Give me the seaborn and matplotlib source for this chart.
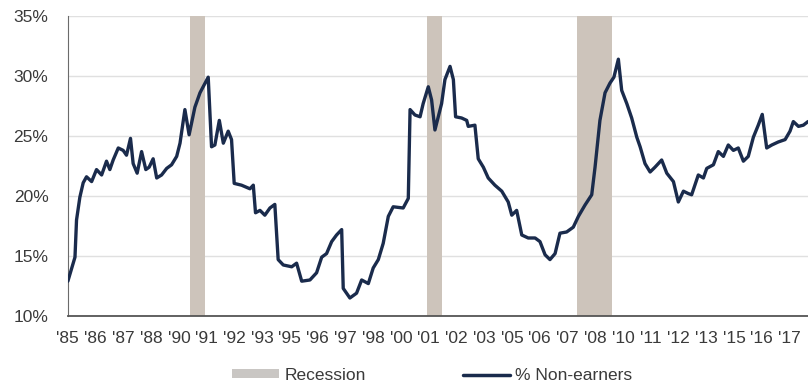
import pandas as pd
import matplotlib.pyplot as plt
import seaborn as sns
from matplotlib.patches import Patch
from matplotlib.lines import Line2D

# 读取自图片的数据（小数年份, 百分比）
years = [1985.00, 1985.32, 1985.39, 1985.54, 1985.69, 1985.84, 1986.07, 1986.29,
         1986.52, 1986.74, 1986.89, 1987.04, 1987.27, 1987.49, 1987.64, 1987.82,
         1987.94, 1988.12, 1988.32, 1988.51, 1988.66, 1988.84, 1989.00, 1989.22,
         1989.45, 1989.67, 1989.90, 1990.05, 1990.27, 1990.46, 1990.72, 1990.95,
         1991.32, 1991.47, 1991.62, 1991.82, 1992.00, 1992.22, 1992.37, 1992.49,
         1992.82, 1993.20, 1993.35, 1993.45, 1993.65, 1993.87, 1994.10, 1994.32,
         1994.47, 1994.70, 1995.08, 1995.30, 1995.53, 1995.90, 1996.20, 1996.43,
         1996.65, 1996.88, 1997.10, 1997.33, 1997.40, 1997.70, 1998.00, 1998.23,
         1998.53, 1998.75, 1998.98, 1999.20, 1999.43, 1999.65, 2000.10, 2000.33,
         2000.41, 2000.63, 2000.86, 2001.00, 2001.23, 2001.38, 2001.53, 2001.83,
         2001.98, 2002.21, 2002.36, 2002.46, 2002.73, 2002.96, 2003.03, 2003.33,
         2003.48, 2003.71, 2003.93, 2004.23, 2004.54, 2004.83, 2004.99, 2005.21,
         2005.44, 2005.73, 2006.04, 2006.26, 2006.49, 2006.71, 2006.94, 2007.16,
         2007.46, 2007.76, 2007.99, 2008.29, 2008.59, 2008.74, 2008.96, 2009.19,
         2009.41, 2009.59, 2009.79, 2009.94, 2010.17, 2010.39, 2010.62, 2010.77,
         2010.99, 2011.22, 2011.44, 2011.74, 2011.97, 2012.27, 2012.49, 2012.72,
         2012.94, 2013.09, 2013.39, 2013.62, 2013.77, 2014.07, 2014.29, 2014.52,
         2014.74, 2014.97, 2015.19, 2015.42, 2015.64, 2015.87, 2016.09, 2016.27,
         2016.47, 2016.70, 2016.99, 2017.30, 2017.52, 2017.67, 2017.90, 2018.12,
         2018.33]
non_earners = [12.9, 14.9, 18.0, 19.9, 21.1, 21.6, 21.2, 22.2,
               21.75, 22.9, 22.2, 23.0, 24.0, 23.8, 23.4, 24.8,
               22.7, 21.9, 23.7, 22.2, 22.4, 23.1, 21.5, 21.75,
               22.3, 22.6, 23.3, 24.4, 27.2, 25.1, 27.4, 28.6,
               29.9, 24.1, 24.25, 26.3, 24.4, 25.4, 24.7, 21.05,
               20.9, 20.6, 20.9, 18.6, 18.8, 18.4, 19.0, 19.3,
               14.7, 14.25, 14.1, 14.4, 12.9, 13.0, 13.6, 14.9,
               15.2, 16.2, 16.75, 17.2, 12.3, 11.5, 11.9, 13.0,
               12.7, 14.0, 14.7, 16.05, 18.3, 19.1, 19.0, 19.8,
               27.2, 26.75, 26.6, 27.7, 29.1, 28.0, 25.5, 27.7,
               29.7, 30.8, 29.7, 26.6, 26.5, 26.3, 25.8, 25.9,
               23.1, 22.4, 21.5, 20.9, 20.4, 19.5, 18.4, 18.8,
               16.75, 16.5, 16.5, 16.2, 15.1, 14.7, 15.2, 16.9,
               17.0, 17.4, 18.3, 19.25, 20.1, 22.4, 26.3, 28.6,
               29.4, 29.9, 31.4, 28.8, 27.7, 26.5, 24.9, 24.1,
               22.7, 22.0, 22.4, 23.0, 21.9, 21.2, 19.5, 20.4,
               20.2, 20.1, 21.75, 21.5, 22.3, 22.6, 23.7, 23.3,
               24.25, 23.8, 24.0, 22.9, 23.3, 24.9, 25.9, 26.8,
               24.0, 24.25, 24.5, 24.7, 25.4, 26.2, 25.8, 25.9,
               26.2]

# 衰退区间（起止小数年份）
recession_start = [1990.50, 2001.17, 2007.92]
recession_end = [1991.17, 2001.83, 2009.50]

tick_labels = ["'85", "'86", "'87", "'88", "'90", "'91", "'92", "'93", "'95",
               "'96", "'97", "'98", "'00", "'01", "'02", "'03", "'05", "'06",
               "'07", "'08", "'10", "'11", "'12", "'13", "'15", "'16", "'17"]

navy = '#1a2b4c'
recession_color = '#cdc4bb'
text_color = '#3a3a3a'

sns.set_style('white')
plt.rcParams['font.family'] = ['Liberation Sans', 'DejaVu Sans']

df = pd.DataFrame({'year': years, 'pct': non_earners})

fig = plt.figure(figsize=(8.08, 3.87), dpi=100)
ax = fig.add_axes([0.084, 0.1835, 0.916, 0.7752])

for s, e in zip(recession_start, recession_end):
    ax.axvspan(s, e, color=recession_color, lw=0, zorder=1)

sns.lineplot(data=df, x='year', y='pct', ax=ax, color=navy, lw=2.4, zorder=3)

ax.set_xlim(1985.0, 2018.33)
ax.set_ylim(10, 35)
ax.set_yticks([10, 15, 20, 25, 30, 35])
ax.set_yticklabels([f'{v}%' for v in [10, 15, 20, 25, 30, 35]])
ax.set_xticks([1985 + 1.25 * i for i in range(len(tick_labels))])
ax.set_xticklabels(tick_labels)
ax.set_xlabel('')
ax.set_ylabel('')

ax.yaxis.grid(True, color='#e0e0e0', lw=1)
ax.set_axisbelow(True)
for side in ['top', 'right']:
    ax.spines[side].set_visible(False)
ax.spines['left'].set_color('#6b6b6b')
ax.spines['bottom'].set_color('#555555')
ax.spines['bottom'].set_linewidth(1.3)

ax.tick_params(axis='x', direction='inout', length=6, width=1, color='#555555',
               labelsize=12.5, labelcolor=text_color, pad=8)
ax.tick_params(axis='y', direction='out', length=4, width=1, color='#6b6b6b',
               labelsize=12.5, labelcolor=text_color, pad=10)

handles = [Patch(facecolor='#c9c6c3', edgecolor='none'),
           Line2D([0], [0], color=navy, lw=2.5)]
fig.legend(handles, ['Recession', '% Non-earners'], loc='lower center',
           bbox_to_anchor=(0.535, -0.03), ncol=2, frameon=False, fontsize=12.5,
           handlelength=2.7, handleheight=0.45, handletextpad=0.3,
           columnspacing=5.6, labelcolor=text_color)

fig.savefig('out.png', dpi=100)
